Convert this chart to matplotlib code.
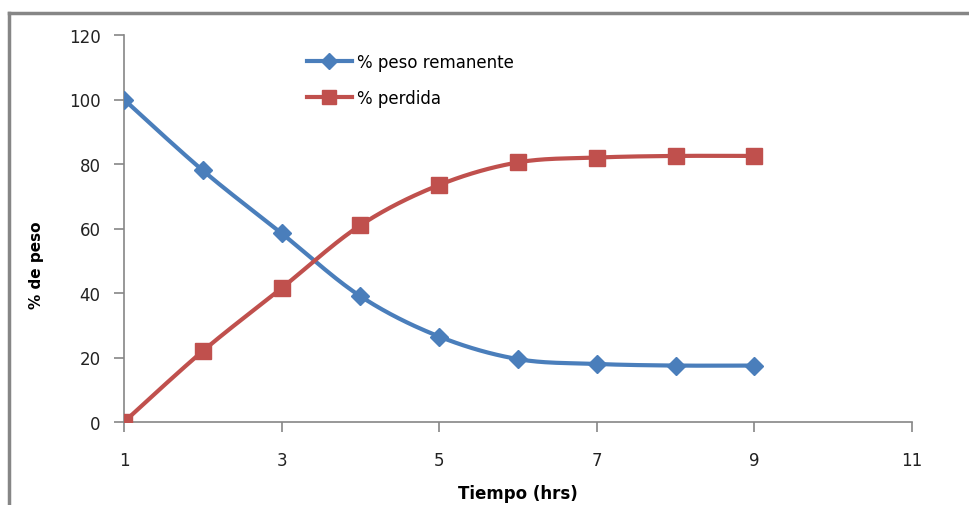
import numpy as np
import matplotlib.pyplot as plt
from matplotlib.lines import Line2D

tiempo = [1, 2, 3, 4, 5, 6, 7, 8, 9]
peso_remanente = [100, 78, 58.5, 39, 26.5, 19.5, 18, 17.5, 17.5]
perdida = [0, 22, 41.5, 61, 73.5, 80.5, 82, 82.5, 82.5]
x_ticks = [1, 3, 5, 7, 9, 11]
y_ticks = [0, 20, 40, 60, 80, 100, 120]


def smooth(x, y, n=30):
    # Catmull-Rom curve through the points, like a spreadsheet "smoothed line"
    x = np.asarray(x, float)
    y = np.asarray(y, float)
    px = np.concatenate([[x[0]], x, [x[-1]]])
    py = np.concatenate([[y[0]], y, [y[-1]]])
    xs, ys = [], []
    t = np.linspace(0, 1, n)
    for i in range(1, len(px) - 2):
        p0, p1, p2, p3 = [np.array([px[j], py[j]]) for j in (i - 1, i, i + 1, i + 2)]
        c1 = p1 + (p2 - p0) / 6
        c2 = p2 - (p3 - p1) / 6
        b = ((1 - t) ** 3)[:, None] * p1 + (3 * (1 - t) ** 2 * t)[:, None] * c1 \
            + (3 * (1 - t) * t ** 2)[:, None] * c2 + (t ** 3)[:, None] * p2
        xs.append(b[:, 0])
        ys.append(b[:, 1])
    return np.concatenate(xs), np.concatenate(ys)


blue = "#4a7ebb"
red = "#c0504d"

fig = plt.figure(figsize=(9.7, 5.06), dpi=100)
ax = fig.add_axes([124 / 970, 1 - 423 / 506, (912 - 124) / 970, (423 - 36) / 506])

for y, c, m, ms, lab in [(peso_remanente, blue, "D", 9, "% peso remanente"),
                         (perdida, red, "s", 11.5, "% perdida")]:
    sx, sy = smooth(tiempo, y)
    ax.plot(sx, sy, color=c, lw=3, solid_capstyle="round", zorder=2)
    ax.plot(tiempo, y, ls="none", marker=m, ms=ms, color=c,
            markeredgecolor=c, zorder=3)

handles = [
    Line2D([], [], color=blue, lw=3, marker="D", ms=8, markeredgecolor=blue),
    Line2D([], [], color=red, lw=3, marker="s", ms=10, markeredgecolor=red),
]
ax.legend(handles, ["% peso remanente", "% perdida"], loc="upper left",
          bbox_to_anchor=(307 / 970, 1 - 54 / 506), bbox_transform=fig.transFigure,
          frameon=False, fontsize=12, handlelength=2.7, handletextpad=0.3,
          labelspacing=1.05, borderaxespad=0, borderpad=0)

ax.set_xlim(1, 11)
ax.set_ylim(0, 120)
ax.set_xticks(x_ticks)
ax.set_yticks(y_ticks)
for s in ["top", "right"]:
    ax.spines[s].set_visible(False)
for s in ["left", "bottom"]:
    ax.spines[s].set_color("#868686")
    ax.spines[s].set_linewidth(1.2)
ax.tick_params(direction="out", length=7, color="#868686", width=1.2,
               labelsize=12, labelcolor="#222222")
ax.tick_params(axis="x", pad=14)
ax.tick_params(axis="y", pad=10)
ax.set_xlabel("Tiempo (hrs)", fontsize=12, fontweight="bold")
ax.set_ylabel("% de peso", fontsize=11, fontweight="bold")
ax.xaxis.set_label_coords((518 - 124) / 788, (423 - 485) / 387)
ax.yaxis.set_label_coords((44 - 124) / 788, (423 - 265) / 387)

# outer chart border (left and top edges visible)
fig.add_artist(Line2D([9 / 970, 9 / 970], [0, 1 - 14 / 506], color="#868686", lw=2.5))
fig.add_artist(Line2D([9 / 970, 1], [1 - 14 / 506, 1 - 14 / 506], color="#868686", lw=2.5))

fig.savefig("out.png", dpi=100)
